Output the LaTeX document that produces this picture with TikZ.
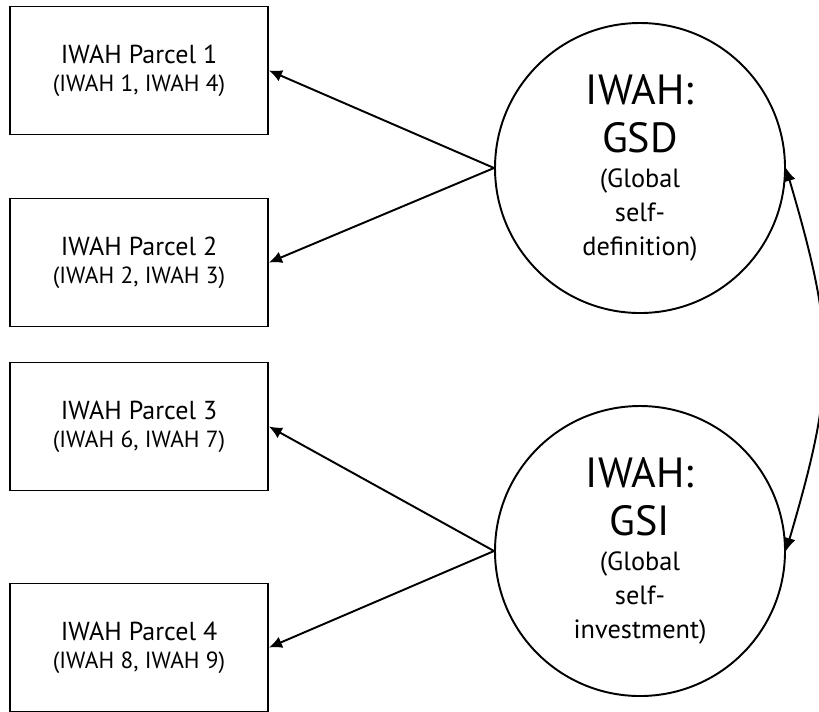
\documentclass[tikz,border=0pt]{standalone}
\usepackage{fontspec}
\setmainfont{PT Sans}
\usetikzlibrary{arrows.meta, positioning}

\begin{document}
\begin{tikzpicture}
    % Define styles
    \tikzstyle{parcel} = [rectangle, draw, line width=1.1pt, minimum width=5.16cm, minimum height=2.56cm, align=center, inner sep=0pt, font=\fontsize{14.8}{17}\selectfont]
    \tikzstyle{factor} = [circle, draw, line width=1.1pt, minimum size=5.8cm, align=center, inner sep=0pt, font=\fontsize{15}{19.5}\selectfont]
    \tikzstyle{line} = [draw, line width=1.1pt, -{Latex[length=2.6mm, width=2.4mm]}]

    \useasboundingbox (0,0) rectangle (16.38,-14.22);

    % Observed parcels
    \node[parcel] (P1) at (2.78,-1.41) {IWAH Parcel 1\\[-1pt]{\fontsize{13.3}{15}\selectfont (IWAH 1, IWAH 4)}};
    \node[parcel] (P2) at (2.78,-5.25) {IWAH Parcel 2\\[-1pt]{\fontsize{13.3}{15}\selectfont (IWAH 2, IWAH 3)}};
    \node[parcel] (P3) at (2.78,-8.53) {IWAH Parcel 3\\[-1pt]{\fontsize{13.3}{15}\selectfont (IWAH 6, IWAH 7)}};
    \node[parcel] (P4) at (2.78,-12.95) {IWAH Parcel 4\\[-1pt]{\fontsize{13.3}{15}\selectfont (IWAH 8, IWAH 9)}};

    % Latent factors
    \node[factor] (GSD) at (12.80,-3.36) {{\fontsize{24}{28}\selectfont IWAH:}\\[8pt]{\fontsize{24}{28}\selectfont GSD}\\(Global\\self-\\definition)};
    \node[factor] (GSI) at (12.80,-11.02) {{\fontsize{24}{28}\selectfont IWAH:}\\[8pt]{\fontsize{24}{28}\selectfont GSI}\\(Global\\self-\\investment)};

    % Loadings
    \draw[line] (GSD.west) -- (P1.east);
    \draw[line] (GSD.west) -- (P2.east);
    \draw[line] (GSI.west) -- (P3.east);
    \draw[line] (GSI.west) -- (P4.east);

    % Covariance
    \draw[line, {Latex[length=2.6mm, width=2.4mm]}-{Latex[length=2.6mm, width=2.4mm]}] (GSD.east) .. controls +(1.0,-3.4) and +(1.0,3.4) .. (GSI.east);
\end{tikzpicture}
\end{document}
